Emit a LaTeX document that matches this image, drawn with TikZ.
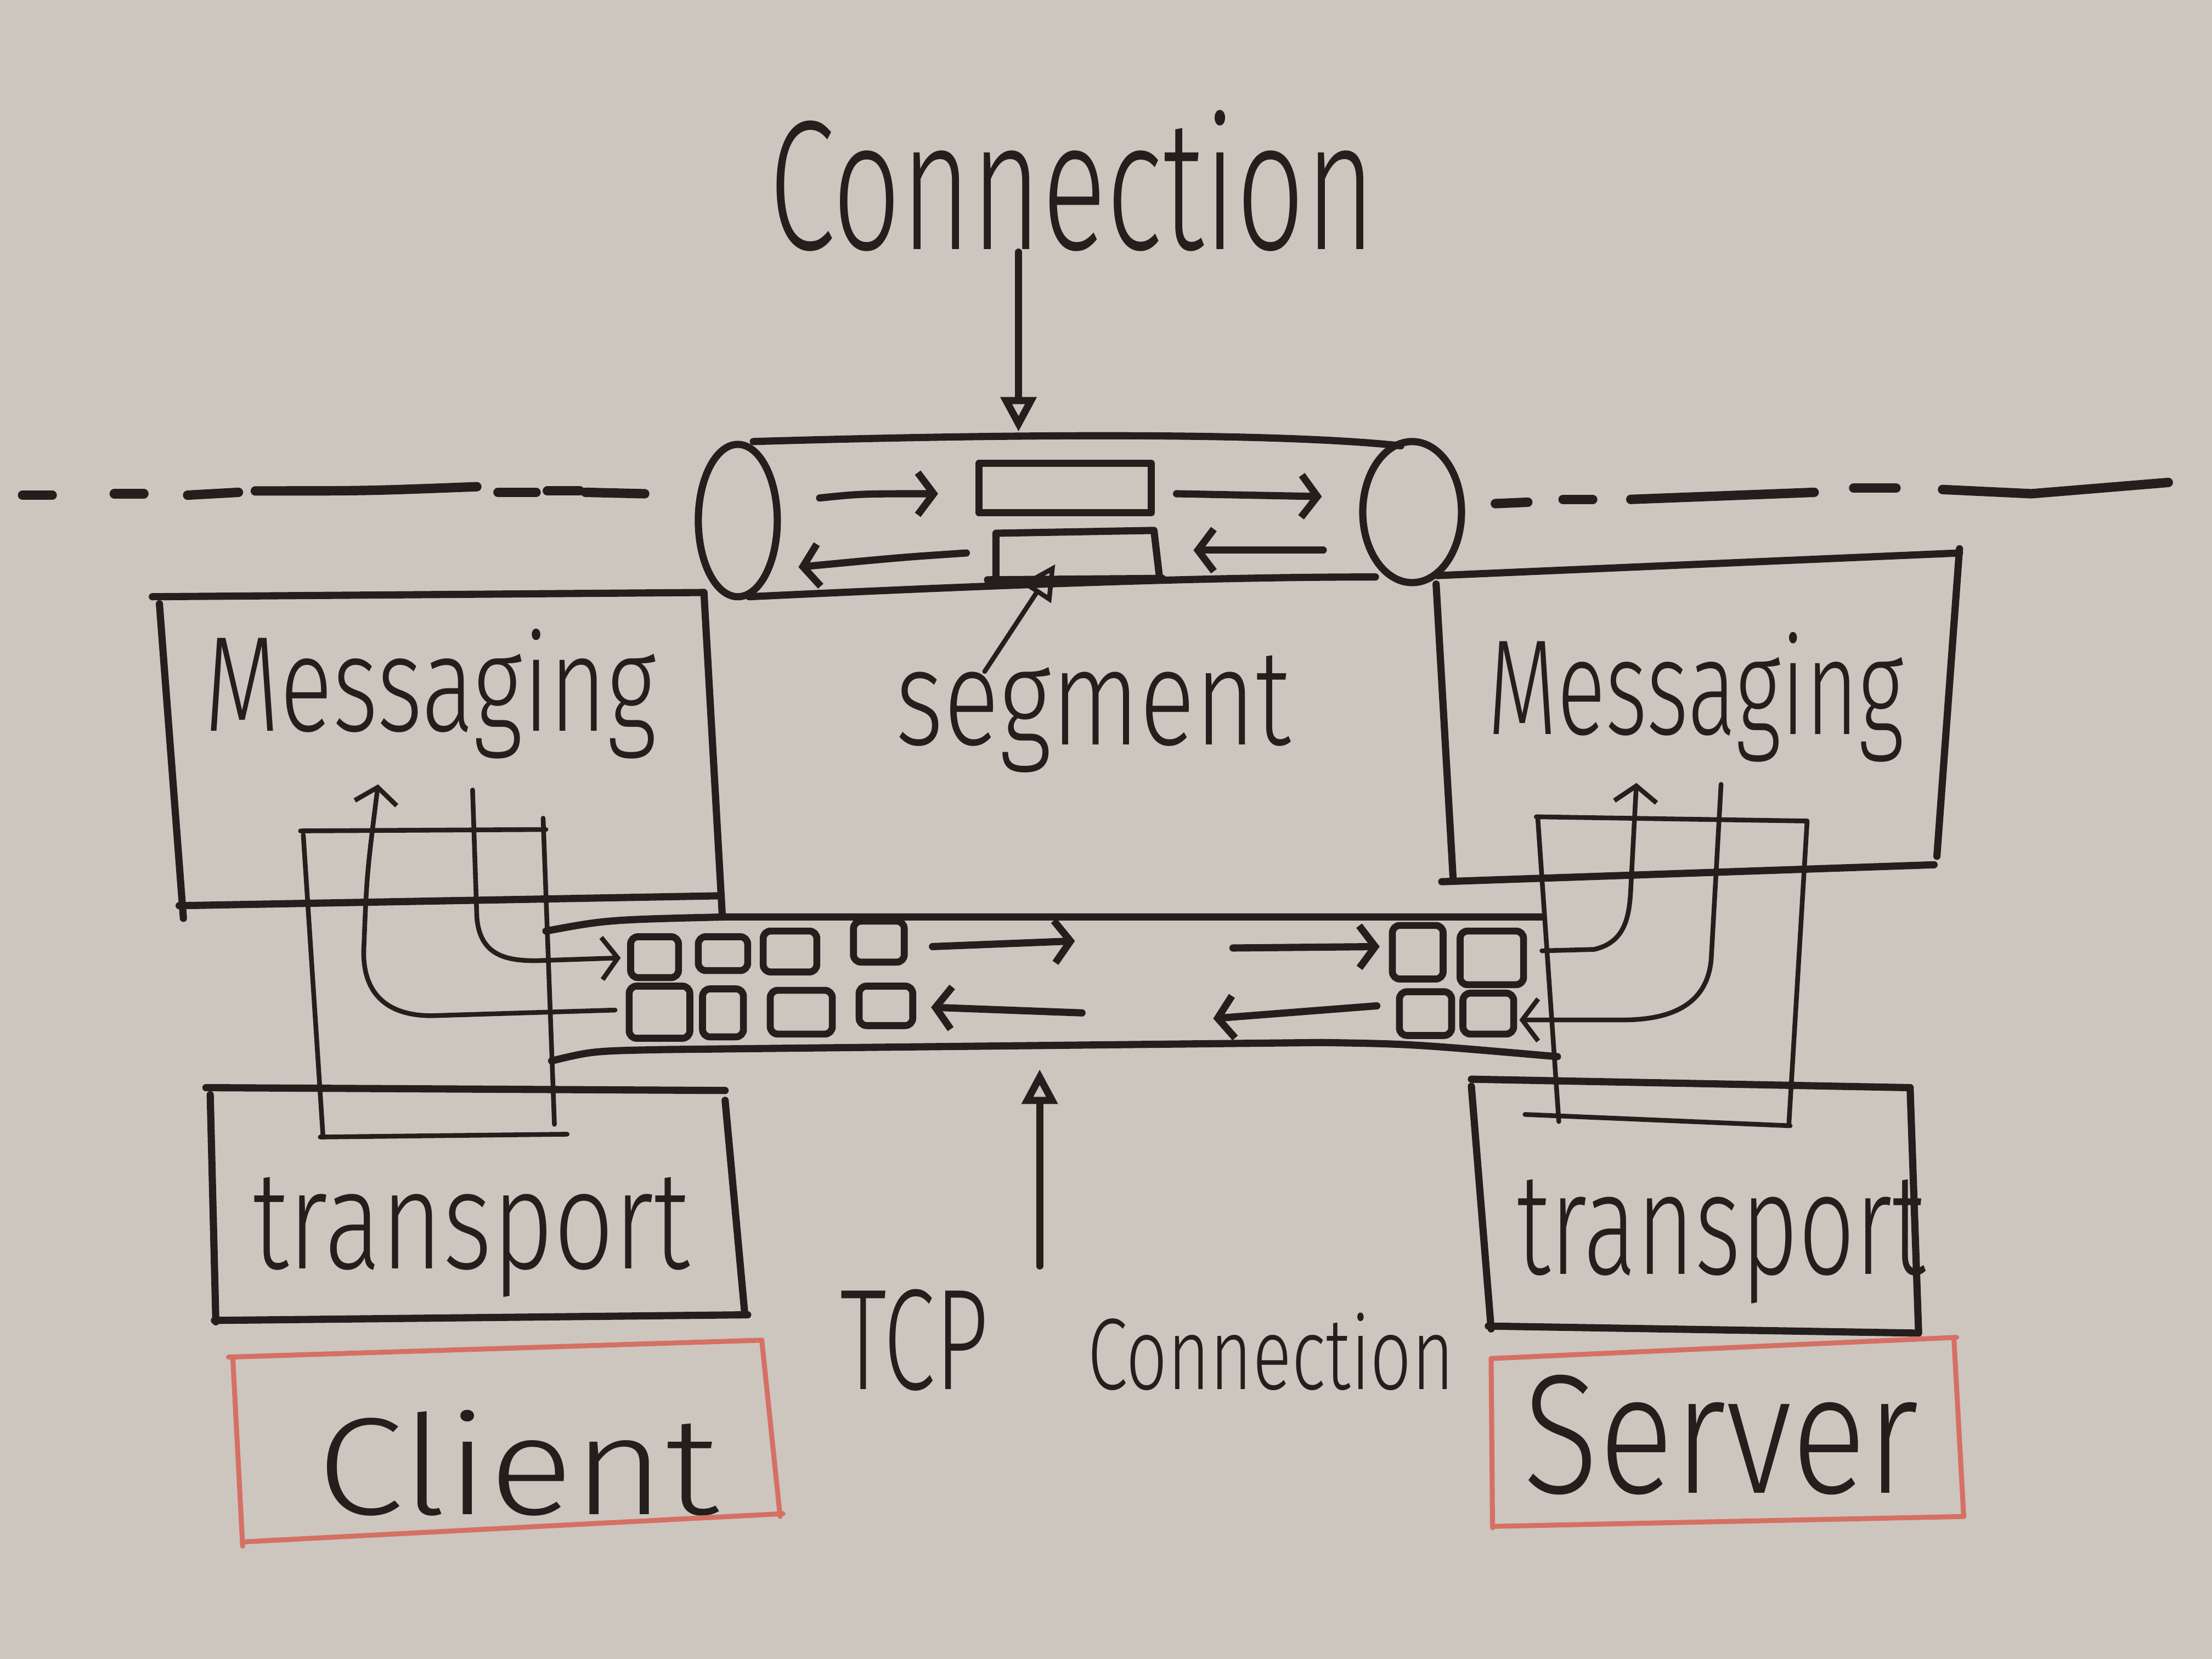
\documentclass[tikz,border=0pt]{standalone}
\usepackage{fontspec}
\setmainfont{Fira Sans}[UprightFont=* Light]
\usepackage{graphicx}
\usetikzlibrary{arrows.meta,calc}
\definecolor{board}{RGB}{204,198,191}
\definecolor{ink}{RGB}{36,31,28}
\definecolor{redink}{RGB}{214,112,100}
\tikzset{
  pen/.style={draw=ink, line width=1.45pt, line cap=round, line join=round},
  fine/.style={draw=ink, line width=0.95pt, line cap=round, line join=round},
  dashpen/.style={draw=ink, line width=1.9pt, line cap=round},
  redpen/.style={draw=redink, line width=1pt, line cap=round},
  sq/.style={draw=ink, line width=1.4pt, rounded corners=1.5pt},
  barb/.style={-{Straight Barb[length=3.2pt,width=8.5pt]}},
  tri/.style={-{Triangle[open,length=7pt,width=7pt]}},
  lbl/.style={inner sep=0pt, text=ink},
}
\begin{document}
\begin{tikzpicture}[x=0.01cm,y=-0.01cm]
\fill[board] (0,0) rectangle (1568,1176);
\useasboundingbox (0,0) rectangle (1568,1176);

% ---- labels
\node[lbl] (conn) at (760,128) {\resizebox*{4.3cm}{1.0cm}{Connection}};
\node[lbl] (seg) at (775,506) {\resizebox*{2.8cm}{0.83cm}{segment}};
\node[lbl] (msgL) at (305,492) {\resizebox*{3.2cm}{0.92cm}{Messaging}};
\node[lbl] (msgR) at (1202,494) {\resizebox*{2.95cm}{0.92cm}{Messaging}};
\node[lbl] (trL) at (334,877) {\resizebox*{3.1cm}{0.85cm}{transport}};
\node[lbl] (trR) at (1220,880) {\resizebox*{2.9cm}{0.88cm}{transport}};
\node[lbl] (client) at (367,1037) {\resizebox*{2.85cm}{0.75cm}{Client}};
\node[lbl] (server) at (1220,1017) {\resizebox*{2.8cm}{0.85cm}{Server}};
\node[lbl, anchor=base west] (tcp) at (595,985)
  {\resizebox*{1.05cm}{0.72cm}{TCP}\hspace{0.7cm}\resizebox*{2.6cm}{0.55cm}{Connection}};

% ---- dashed horizon
\draw[dashpen] (16,351)--(37,351);
\draw[dashpen] (81,350)--(102,350);
\draw[dashpen] (133,351)--(169,349);
\draw[dashpen] (181,348) .. controls (260,348) .. (338,345);
\draw[dashpen] (353,349)--(380,349);
\draw[dashpen] (388,348)--(411,348);
\draw[dashpen] (415,349)--(457,350);
\draw[dashpen] (1060,357)--(1083,356);
\draw[dashpen] (1108,354)--(1129,354);
\draw[dashpen] (1156,354)--(1286,349);
\draw[dashpen] (1314,346)--(1344,346);
\draw[dashpen] (1377,347)--(1440,350)--(1537,342);

% ---- Connection tube
\draw[pen] (523,369) ellipse [x radius=28, y radius=54];
\draw[pen] (1001,363) ellipse [x radius=35, y radius=50];
\draw[pen] (534,313) .. controls (700,308) and (900,306) .. (993,316);
\draw[pen] (531,423) .. controls (700,415) and (850,409) .. (975,409);
\node[pen, minimum width=122*0.01cm, minimum height=35*0.01cm, inner sep=0pt] (segA) at (755,346) {};
\draw[pen] (706,410)--(706,378)--(818,376)--(822,410);
\draw[pen] (700,411)--(824,410);
\coordinate (segB) at (748,400);
\draw[pen,barb] (581,353) .. controls (610,350) .. (665,350);
\draw[pen,barb] (834,350) -- (937,352);
\draw[pen,barb] (938,390) -- (846,390);
\draw[pen,barb] (685,392) .. controls (640,395) .. (566,402);

% pointers
\coordinate (ca) at (722,306);
\draw[pen,tri] (conn.south -| ca) -- (ca);
\coordinate (ss) at (698,476);
\draw[fine,tri] (ss) -- (segB);
\coordinate (ta) at (737,758);
\draw[pen,tri] ($(tcp.north -| ta)+(0,-16)$) -- (ta);

% ---- left messaging box
\draw[pen] (108,423)--(499,420);
\draw[pen] (499,420)--(512,649);
\draw[pen] (127,642)--(510,635);
\draw[pen] (113,428)--(130,651);

% left inner rect
\draw[fine] (213,589)--(387,588);
\draw[fine] (215,592)--(229,806);
\draw[fine] (385,580)--(393,797);
\draw[fine] (227,806)--(402,804);

% left transport box
\draw[pen] (146,771)--(514,773);
\draw[pen] (514,780)--(528,932);
\draw[pen] (152,936)--(530,932);
\draw[pen] (149,776)--(153,937);

% client
\draw[redpen] (162,962)--(540,950);
\draw[redpen] (540,950)--(553,1075);
\draw[redpen] (172,1093)--(555,1073);
\draw[redpen] (165,962)--(172,1096);

% ---- TCP band
\draw[pen] (387,660) .. controls (430,652) .. (514,650) -- (1093,650);
\draw[pen] (391,752) .. controls (420,745) .. (470,744) -- (937,739) .. controls (1000,740) .. (1104,749);
\draw[sq] (447,664) rectangle (481,693);
\draw[sq] (495,664) rectangle (530,688);
\draw[sq] (541,660) rectangle (579,689);
\draw[sq] (605,653) rectangle (641,682);
\draw[sq] (446,699) rectangle (489,736);
\draw[sq] (498,701) rectangle (527,735);
\draw[sq] (546,702) rectangle (590,733);
\draw[sq] (609,699) rectangle (647,727);
\draw[sq] (987,656) rectangle (1023,694);
\draw[sq] (1035,660) rectangle (1080,698);
\draw[sq] (992,703) rectangle (1029,734);
\draw[sq] (1037,704) rectangle (1073,733);
\draw[pen,barb] (661,671)--(762,667);
\draw[pen,barb] (767,718)--(660,714);
\draw[pen,barb] (874,672)--(978,671);
\draw[pen,barb] (976,713)--(860,722);

% left curved arrows
\draw[fine,barb] (335,560) -- (338,650) .. controls (340,678) and (360,681) .. (380,681) -- (440,679);
\draw[fine,barb] (436,716) -- (306,720) .. controls (270,720) and (256,700) .. (258,670) .. controls (260,620) .. (268,556);

% ---- right messaging box
\draw[pen] (1019,408)--(1389,392);
\draw[pen] (1389,389)--(1373,607);
\draw[pen] (1022,625)--(1371,613);
\draw[pen] (1018,414)--(1030,622);

% right inner rect
\draw[fine] (1089,579)--(1281,582);
\draw[fine] (1090,579)--(1105,795);
\draw[fine] (1281,582)--(1268,798);
\draw[fine] (1081,790)--(1269,798);

% right transport box
\draw[pen] (1043,765)--(1354,771);
\draw[pen] (1354,771)--(1360,944);
\draw[pen] (1055,940)--(1360,945);
\draw[pen] (1043,770)--(1057,942);

% server
\draw[redpen] (1057,963)--(1387,948);
\draw[redpen] (1385,948)--(1392,1075);
\draw[redpen] (1058,1082)--(1392,1075);
\draw[redpen] (1057,963)--(1058,1083);

% right curved arrows
\draw[fine,barb] (1093,674) -- (1130,673) .. controls (1152,668) and (1155,650) .. (1156,630) -- (1160,555);
\draw[fine,barb] (1220,556) -- (1213,680) .. controls (1210,715) and (1180,723) .. (1150,723) -- (1077,723);
\end{tikzpicture}
\end{document}
